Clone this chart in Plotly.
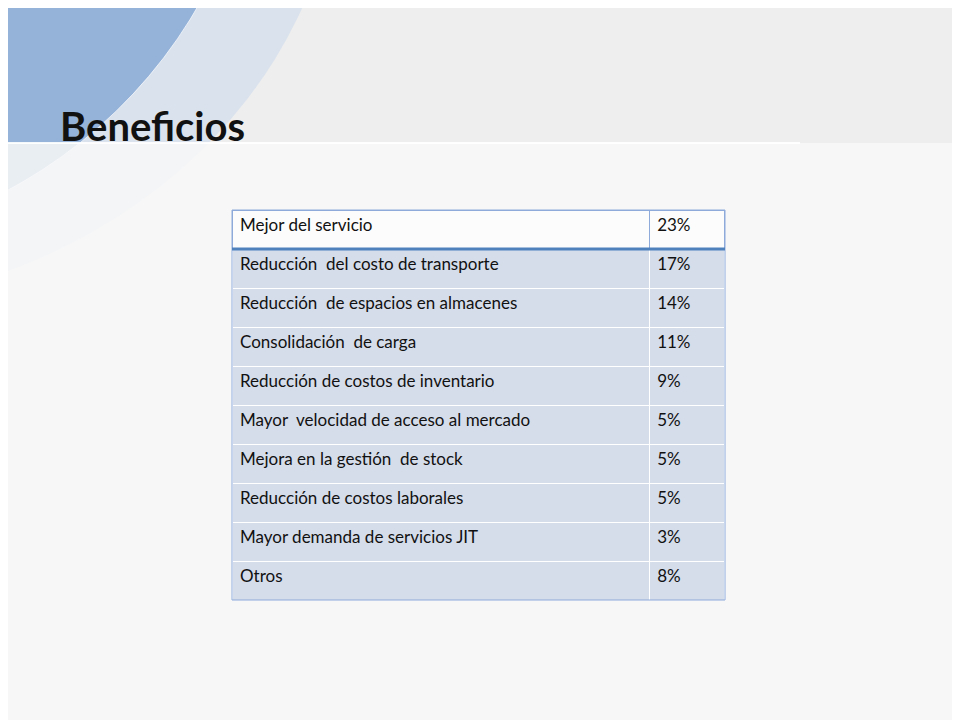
import plotly.graph_objects as go

# Table contents
beneficios = [
    "Mejor del servicio",
    "Reducción  del costo de transporte",
    "Reducción  de espacios en almacenes",
    "Consolidación  de carga",
    "Reducción de costos de inventario",
    "Mayor  velocidad de acceso al mercado",
    "Mejora en la gestión  de stock",
    "Reducción de costos laborales",
    "Mayor demanda de servicios JIT",
    "Otros",
]
porcentajes = ["23%", "17%", "14%", "11%", "9%", "5%", "5%", "5%", "3%", "8%"]

W, H = 960, 720
OFF = 8  # page body margin


def px(x):
    return (x - OFF) / W


def py(y):
    return 1 - (y - OFF) / H


row_fill = ["rgba(208,216,232,0.9)"] * (len(beneficios) - 1)

fig = go.Figure(
    go.Table(
        domain=dict(x=[px(232), px(725)], y=[py(600), py(210)]),
        columnwidth=[418, 75],
        header=dict(
            values=[beneficios[0], porcentajes[0]],
            fill_color="rgba(255,255,255,0.6)",
            line=dict(color="#8eaadb", width=1),
            align="left",
            height=39,
            font=dict(family="Lato", size=17, color="#111111"),
        ),
        cells=dict(
            values=[beneficios[1:], porcentajes[1:]],
            fill_color=[row_fill, row_fill],
            line=dict(color="#ffffff", width=1),
            align="left",
            height=39,
            font=dict(family="Lato", size=17, color="#111111"),
        ),
    )
)

shapes = [
    # decorative blue arcs in the top-left corner
    dict(type="circle", xref="paper", yref="paper", layer="below",
         x0=px(-760), x1=px(340), y0=py(-640), y1=py(310),
         fillcolor="rgba(205,218,236,0.6)", line=dict(width=0)),
    dict(type="circle", xref="paper", yref="paper", layer="below",
         x0=px(-720), x1=px(260), y0=py(-700), y1=py(250),
         fillcolor="rgba(125,162,208,0.75)", line=dict(color="rgba(255,255,255,0.7)", width=1)),
    # lighter lower body
    dict(type="rect", xref="paper", yref="paper", layer="below",
         x0=0, x1=1, y0=0, y1=py(143),
         fillcolor="rgba(248,248,248,0.85)", line=dict(width=0)),
    dict(type="line", xref="paper", yref="paper", layer="below",
         x0=0, x1=px(800), y0=py(143), y1=py(143),
         line=dict(color="rgba(255,255,255,0.9)", width=2)),
    # table outline and header separator
    dict(type="rect", xref="paper", yref="paper",
         x0=px(232), x1=px(725), y0=py(600), y1=py(210),
         line=dict(color="#8eaadb", width=1)),
    dict(type="line", xref="paper", yref="paper",
         x0=px(232), x1=px(725), y0=py(249), y1=py(249),
         line=dict(color="#4f81bd", width=3)),
]

fig.update_layout(
    width=W,
    height=H,
    margin=dict(l=0, r=0, t=0, b=0),
    paper_bgcolor="#eeeeee",
    shapes=shapes,
    annotations=[
        dict(text="<b>Beneficios</b>", xref="paper", yref="paper",
             x=px(58), y=py(126), xanchor="left", yanchor="middle",
             showarrow=False, font=dict(family="Lato", size=40, color="#111111")),
    ],
)

fig.write_html("out.html")
